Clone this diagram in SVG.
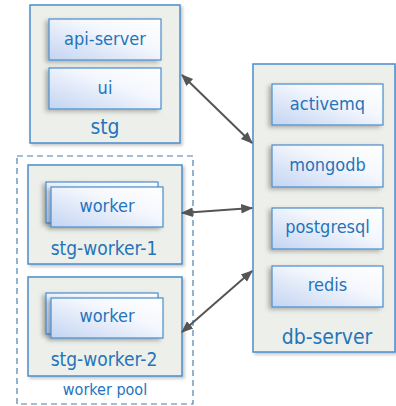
<svg xmlns="http://www.w3.org/2000/svg" width="396" height="406" viewBox="0 0 396 406">
<defs>
<linearGradient id="ig" x1="0" y1="1" x2="1" y2="0">
<stop offset="0" stop-color="#c3d4f2"/>
<stop offset="0.6" stop-color="#f4f7fd"/>
<stop offset="1" stop-color="#ffffff"/>
</linearGradient>
<filter id="cs" x="-10%" y="-10%" width="130%" height="130%">
<feDropShadow dx="2" dy="2" stdDeviation="1.5" flood-color="#000" flood-opacity="0.22"/>
</filter>
<filter id="is" x="-20%" y="-20%" width="140%" height="160%">
<feDropShadow dx="-3" dy="2" stdDeviation="2" flood-color="#000" flood-opacity="0.28"/>
</filter>
<marker id="ah" viewBox="0 0 10 10" refX="9" refY="5" markerWidth="6" markerHeight="6" orient="auto-start-reverse" markerUnits="strokeWidth">
<path d="M0,1 L10,5 L0,9 Z" fill="#555"/>
</marker>
</defs>
<style>
.cont{fill:#edf0ea;stroke:#4a8ccc;stroke-width:1.5;filter:url(#cs)}
.inner{fill:url(#ig);stroke:#4a8ccc;stroke-width:1.2;filter:url(#is)}
.pool{fill:none;stroke:#4a7fb0;stroke-width:1.2;stroke-dasharray:6,4}
text{font-family:"DejaVu Sans Condensed","DejaVu Sans",Verdana,sans-serif;font-stretch:condensed;fill:#2574bb;text-anchor:middle}
.t{font-size:18px}
.lbl{font-size:19px}
.big{font-size:21px}
.sm{font-size:16px}
.conn line{stroke:#555;stroke-width:2;marker-start:url(#ah);marker-end:url(#ah)}
</style>

<g id="worker-pool">
<rect class="pool" x="17" y="156" width="176" height="248"/>
<text class="sm" x="105" y="395">worker pool</text>
</g>

<g id="stg">
<rect class="cont" x="30" y="5" width="150" height="138"/>
<text class="big" x="105" y="134">stg</text>
</g>
<g id="api-server">
<rect class="inner" x="49" y="19" width="112" height="41"/>
<text class="t" x="105" y="45">api-server</text>
</g>
<g id="ui">
<rect class="inner" x="49" y="68" width="112" height="41"/>
<text class="t" x="105" y="94">ui</text>
</g>

<g id="stg-worker-1">
<rect class="cont" x="28" y="165" width="154" height="99"/>
<text class="lbl" x="104" y="255">stg-worker-1</text>
</g>
<g id="worker-1">
<rect class="inner" x="46" y="182" width="112" height="41"/>
<rect class="inner" x="51" y="187" width="112" height="40"/>
<text class="t" x="107" y="212">worker</text>
</g>

<g id="stg-worker-2">
<rect class="cont" x="28" y="277" width="154" height="99"/>
<text class="lbl" x="104" y="366">stg-worker-2</text>
</g>
<g id="worker-2">
<rect class="inner" x="46" y="293" width="112" height="41"/>
<rect class="inner" x="51" y="298" width="112" height="40"/>
<text class="t" x="107" y="322">worker</text>
</g>

<g id="db-server">
<rect class="cont" x="253" y="64" width="142" height="288"/>
<text class="big" x="327" y="344">db-server</text>
</g>
<g id="activemq">
<rect class="inner" x="272" y="84" width="111" height="41"/>
<text class="t" x="327.5" y="110">activemq</text>
</g>
<g id="mongodb">
<rect class="inner" x="272" y="145" width="111" height="42"/>
<text class="t" x="327.5" y="171">mongodb</text>
</g>
<g id="postgresql">
<rect class="inner" x="272" y="208" width="111" height="41"/>
<text class="t" x="327.5" y="233">postgresql</text>
</g>
<g id="redis">
<rect class="inner" x="272" y="266" width="111" height="41"/>
<text class="t" x="327.5" y="291">redis</text>
</g>

<g id="connectors" class="conn">
<line x1="182" y1="75" x2="252" y2="143"/>
<line x1="182" y1="213" x2="252" y2="208"/>
<line x1="182" y1="332" x2="252" y2="271"/>
</g>
</svg>
